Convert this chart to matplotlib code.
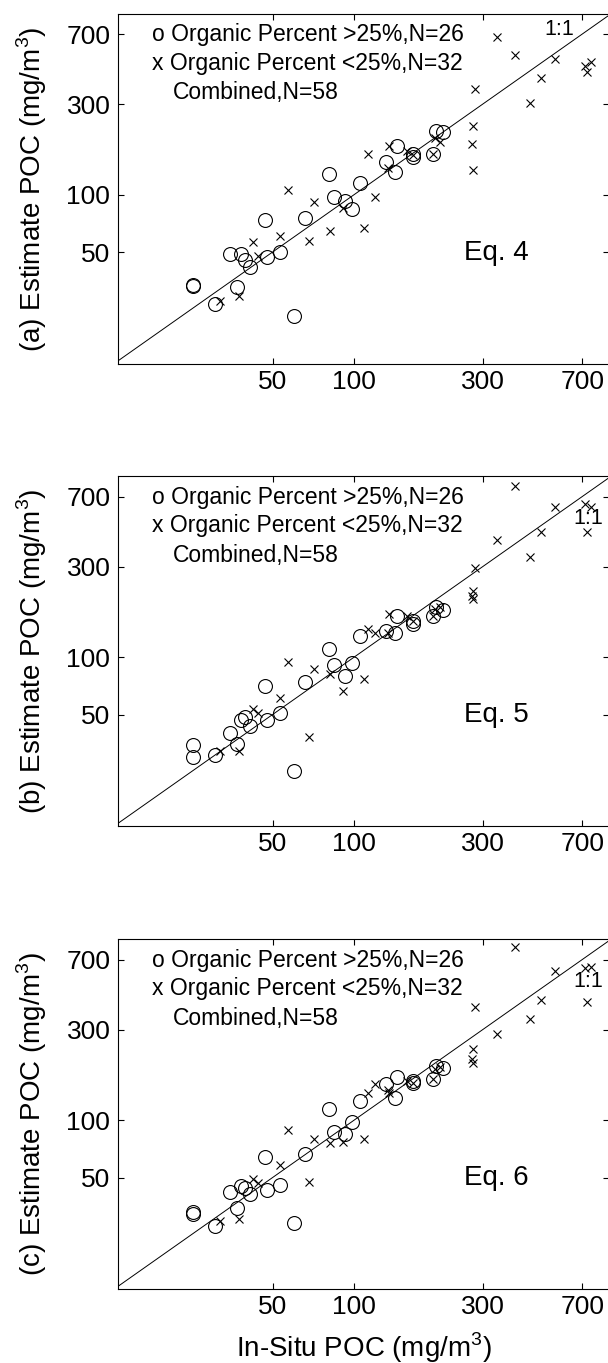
import numpy as np
import matplotlib
matplotlib.use('Agg')
import matplotlib.pyplot as plt
from matplotlib.ticker import NullLocator

plt.rcParams['font.family'] = ['Liberation Sans', 'DejaVu Sans']
plt.rcParams['mathtext.fontset'] = 'custom'
plt.rcParams['mathtext.rm'] = 'Liberation Sans'

# organic percent > 25% (circles)
insitu_org = [25.3, 25.5, 30.6, 36.9, 34.7, 38.2, 39.5, 41.2, 47.7, 53.1, 47.0, 66.1, 80.6,
              84.4, 92.6, 98.2, 105, 131.8, 142.3, 144.6, 165, 166, 196, 201, 213, 59.8]
est4_org = [33.0, 33.6, 26.7, 32.7, 48.8, 48.8, 45.6, 41.5, 46.9, 49.8, 73.9, 75.4, 128.9,
            97.3, 93.0, 84.4, 115.2, 148.5, 132.5, 179.6, 163, 158, 164, 217, 213, 23.2]
est5_org = [34.4, 29.8, 30.5, 35.1, 39.9, 46.9, 48.4, 43.8, 46.9, 50.8, 71.0, 74.5, 110.7,
            91.6, 80.1, 93.0, 130, 138, 133.6, 165.6, 156, 150, 165.6, 183, 177, 25.4]
est6_org = [32.3, 32.8, 27.9, 34.5, 42.2, 45.2, 44.3, 40.8, 42.9, 45.6, 64.2, 66.8, 114.2,
            87.1, 84.4, 98.3, 126, 156, 131.4, 169, 161, 158, 164, 193, 189, 29.0]

# organic percent < 25% (crosses)
insitu_min = [340, 396, 557, 491, 449, 719, 755, 731, 280, 277, 274, 277, 113, 120, 109, 81.6,
              71.2, 68.1, 57.3, 53.1, 42.2, 44, 37.5, 31.9, 134.5, 208, 196, 91, 134, 157, 165, 200]
est4_min = [678, 543, 516, 410, 305, 475, 501, 444, 359, 230, 185, 135, 164, 98, 66.8, 64.7,
            92.2, 57.3, 106, 61, 56.2, 47.5, 29.3, 27.7, 181, 190, 164, 85, 138, 170, 162, 200]
est5_min = [414, 797, 614, 457, 338, 640, 614, 457, 295, 222, 211, 203, 141, 135, 77, 81.8,
            86.9, 38, 94.9, 61.2, 53.6, 51, 32.1, 32, 168, 183, 165, 66.3, 134, 165, 155, 180]
est6_min = [285, 813, 608, 427, 343, 633, 638, 418, 394, 236, 209, 201, 140, 156, 79.5, 76.3,
            79.5, 47.6, 88.6, 58.2, 49, 47, 30.2, 29.6, 140, 190, 164, 77.2, 145, 161, 158, 186]

ticks = [50, 100, 300, 700]
tick_labels = ['50', '100', '300', '700']
tags = ['(a)', '(b)', '(c)']
eqs = ['Eq. 4', 'Eq. 5', 'Eq. 6']
legend_lines = ['o Organic Percent >25%,N=26', 'x Organic Percent <25%,N=32', 'Combined,N=58']

fig = plt.figure(figsize=(6.08, 13.63), dpi=100)

bottoms = [0.73294, 0.39362, 0.05393]
org_sets = [est4_org, est5_org, est6_org]
min_sets = [est4_min, est5_min, est6_min]
one_pos = [(509, 736), (647, 540), (647, 540)]

for i in range(3):
    ax = fig.add_axes([0.19408, bottoms[i], 0.8076, 0.25679])
    ax.set_xscale('log')
    ax.set_yscale('log')
    ax.plot(insitu_org, org_sets[i], 'o', ms=10, mfc='none', mec='k', mew=0.8)
    ax.plot(insitu_min, min_sets[i], 'x', ms=5.5, mec='k', mew=0.8)
    ax.axline((50, 50), (500, 500), color='k', lw=0.7)
    ax.set_xlim(13.4, 880)
    ax.set_ylim(12.9, 893)
    ax.set_xticks(ticks)
    ax.set_xticklabels(tick_labels)
    ax.set_yticks(ticks)
    ax.set_yticklabels(tick_labels)
    ax.xaxis.set_minor_locator(NullLocator())
    ax.yaxis.set_minor_locator(NullLocator())
    ax.tick_params(direction='in', length=4, width=0.8, top=True, right=True, labelsize=19)
    ax.tick_params(axis='x', pad=4)
    ax.tick_params(axis='y', pad=5.5)
    for s in ax.spines.values():
        s.set_linewidth(0.8)

    ax.set_ylabel(tags[i] + ' Estimate POC (mg/m$^3$)', fontsize=20)
    ax.yaxis.set_label_coords(-0.14, 0.5)

    ax.text(0.0686, 0.94, legend_lines[0], transform=ax.transAxes, fontsize=16.5, va='center')
    ax.text(0.0686, 0.859, legend_lines[1], transform=ax.transAxes, fontsize=16.5, va='center')
    ax.text(0.111, 0.775, legend_lines[2], transform=ax.transAxes, fontsize=16.5, va='center')
    ax.text(255, 49.5, eqs[i], fontsize=20, va='center')
    ax.text(one_pos[i][0], one_pos[i][1], '1:1', fontsize=15.5, va='center')

    if i == 2:
        ax.set_xlabel('In-Situ POC (mg/m$^3$)', fontsize=20, labelpad=8)

fig.savefig('out.png', dpi=100)
